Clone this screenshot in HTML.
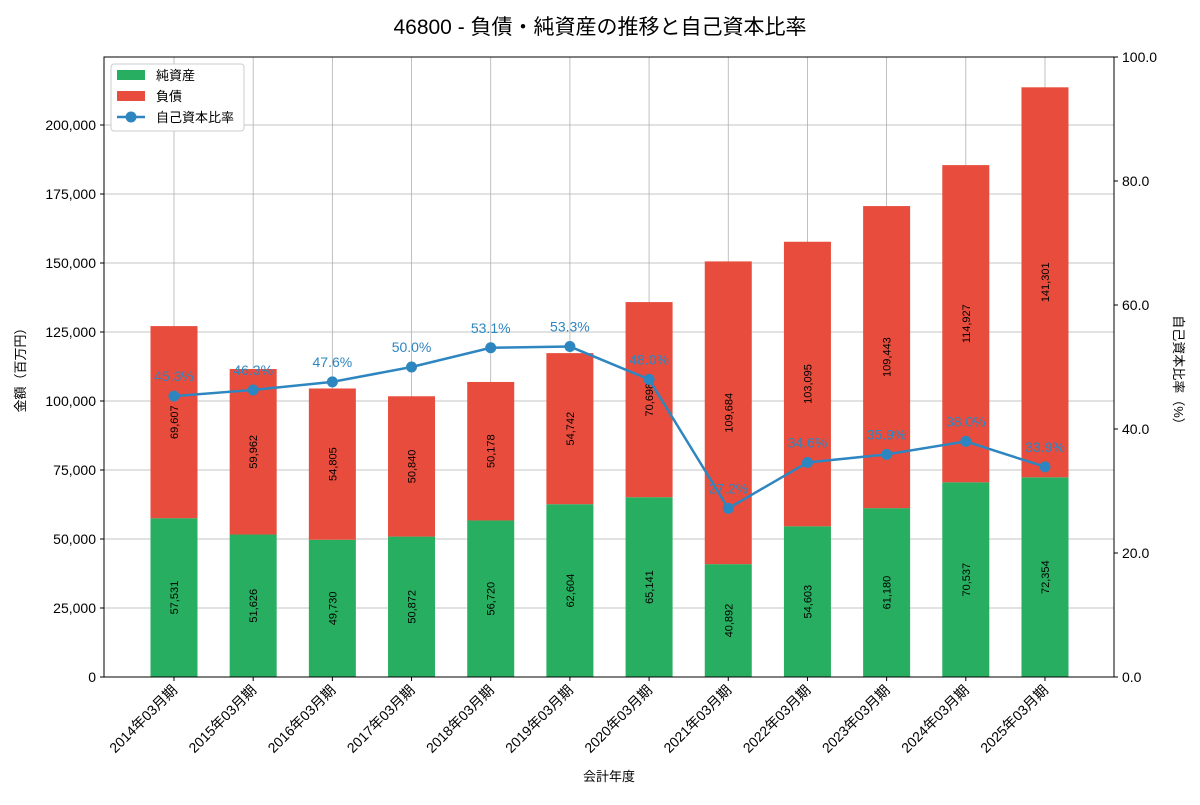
<!DOCTYPE html>
<html><head><meta charset="utf-8"><style>
body{margin:0;background:#fff;font-family:"Liberation Sans","Noto Sans CJK JP",sans-serif}
</style></head><body>
<svg id="chart" width="1200" height="800" xmlns="http://www.w3.org/2000/svg" font-family="Liberation Sans, Noto Sans CJK JP, sans-serif">
<text x="600" y="34" text-anchor="middle" font-size="21">46800 - 負債・純資産の推移と自己資本比率</text>
<g id="grid"></g><g id="bars"></g><g id="line"></g><g id="axes"></g>
<text transform="translate(25,367) rotate(-90)" text-anchor="middle" font-size="13">金額（百万円）</text>
<text transform="translate(1174,373) rotate(90)" text-anchor="middle" font-size="13">自己資本比率（%）</text>
<text x="609" y="781" text-anchor="middle" font-size="13">会計年度</text>
<g>
<rect x="111" y="64" width="133" height="67" fill="#fff" stroke="#ccc" rx="3"/>
<rect x="117" y="70" width="28" height="10" fill="#27ae60"/><text x="156" y="80" font-size="13">純資産</text>
<rect x="117" y="91" width="28" height="10" fill="#e74c3c"/><text x="156" y="101" font-size="13">負債</text>
<line x1="117" y1="117" x2="145" y2="117" stroke="#2e86c1" stroke-width="2.5"/><circle cx="131" cy="117" r="5.5" fill="#2e86c1"/><text x="156" y="122" font-size="13">自己資本比率</text>
</g>
</svg>
<script>
const categories=["2014年03月期","2015年03月期","2016年03月期","2017年03月期","2018年03月期","2019年03月期","2020年03月期","2021年03月期","2022年03月期","2023年03月期","2024年03月期","2025年03月期"];
const netAssets=[57531,51626,49730,50872,56720,62604,65141,40892,54603,61180,70537,72354];
const liabilities=[69607,59962,54805,50840,50178,54742,70698,109684,103095,109443,114927,141301];
const equityRatio=[45.3,46.3,47.6,50.0,53.1,53.3,48.0,27.2,34.6,35.9,38.0,33.9];
const yTicks=[0,25000,50000,75000,100000,125000,150000,175000,200000];
const y2Ticks=[0,20,40,60,80,100];
const NS="http://www.w3.org/2000/svg";
const L=104,R=1114,T=57,B=677;
const x=i=>174+i*79.18;
const y=v=>B-v*552/200000;
const y2=v=>B-v*(B-T)/100;
const fmt=v=>v.toLocaleString("en-US");
function mk(p,tag,a,txt){const e=document.createElementNS(NS,tag);for(const k in a)e.setAttribute(k,a[k]);if(txt!=null)e.textContent=txt;document.getElementById(p).appendChild(e);return e;}
yTicks.forEach(t=>{const g=mk("grid","line",{x1:L,x2:R,y1:y(t),y2:y(t),stroke:"#b0b0b0","stroke-width":0.8});


mk("axes","line",{x1:L-4,x2:L,y1:y(t),y2:y(t),stroke:"#000"});
const tl=mk("axes","text",{x:L-8,y:y(t)+5,"text-anchor":"end","font-size":14},fmt(t));

});
y2Ticks.forEach(t=>{mk("axes","line",{x1:R,x2:R+4,y1:y2(t),y2:y2(t),stroke:"#000"});
const tl=mk("axes","text",{x:R+8,y:y2(t)+5,"font-size":14},t.toFixed(1));

});
categories.forEach((c,i)=>{const cx=x(i);
const g=mk("grid","line",{x1:cx,x2:cx,y1:T,y2:B,stroke:"#b0b0b0","stroke-width":0.8});


mk("axes","line",{x1:cx,x2:cx,y1:B,y2:B+4,stroke:"#000"});
const tl=mk("axes","text",{transform:`translate(${cx+4},${B+14}) rotate(-45)`,"text-anchor":"end","font-size":14},c);


const n=netAssets[i],d=liabilities[i],w=47;
const b1=mk("bars","rect",{x:cx-w/2,y:y(n),width:w,height:B-y(n),fill:"#27ae60"});


const b2=mk("bars","rect",{x:cx-w/2,y:y(n+d),width:w,height:y(n)-y(n+d),fill:"#e74c3c"});


const m1=(y(0)+y(n))/2,m2=(y(n)+y(n+d))/2;
const t1=mk("bars","text",{transform:`translate(${cx+4},${m1}) rotate(-90)`,"text-anchor":"middle","font-size":11},fmt(n));


const t2=mk("bars","text",{transform:`translate(${cx+4},${m2}) rotate(-90)`,"text-anchor":"middle","font-size":11},fmt(d));

});
const pl=mk("line","polyline",{points:equityRatio.map((v,i)=>x(i)+","+y2(v)).join(" "),fill:"none",stroke:"#2e86c1","stroke-width":2.5});


equityRatio.forEach((v,i)=>{const c=mk("line","circle",{cx:x(i),cy:y2(v),r:5.5,fill:"#2e86c1"});


const t=mk("line","text",{x:x(i),y:y2(v)-15,"text-anchor":"middle","font-size":14,fill:"#2e86c1"},v.toFixed(1)+"%");

});
const fr=mk("axes","rect",{x:L,y:T,width:R-L,height:B-T,fill:"none",stroke:"#000","stroke-width":1});


</script>
</body></html>
